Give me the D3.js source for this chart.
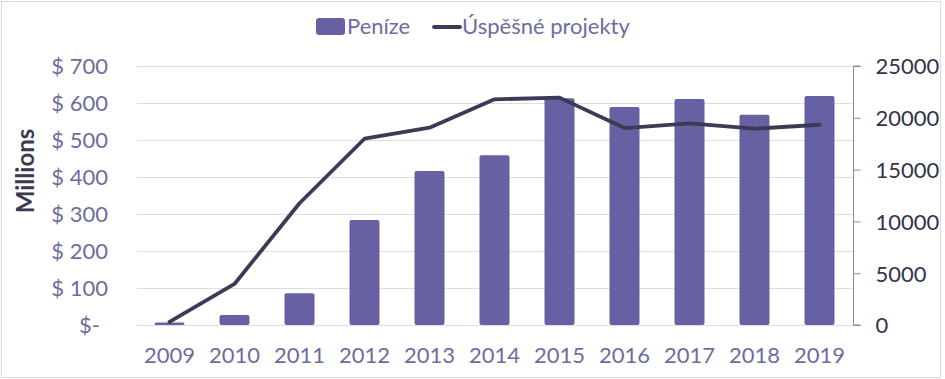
<!DOCTYPE html>
<html>
<head>
<meta charset="utf-8">
<script src="https://cdn.jsdelivr.net/npm/d3@7"></script>
<style>
  html, body { margin: 0; padding: 0; background: #fff; }
  svg { display: block; font-family: Lato, "Open Sans", sans-serif; }
</style>
</head>
<body>
<svg id="chart" width="945" height="379"></svg>
<script>
const years = ["2009","2010","2011","2012","2013","2014","2015","2016","2017","2018","2019"];
const money = [7, 27, 86, 284, 416, 459, 613, 589, 611, 568, 619]; // millions $
const projects = [300, 3960, 11750, 17980, 19040, 21780, 21950, 19010, 19460, 18950, 19330];
const leftTicks = [0, 100, 200, 300, 400, 500, 600, 700];
const rightTicks = [0, 5000, 10000, 15000, 20000, 25000];
const seriesNames = ["Peníze", "Úspěšné projekty"];

const svg = d3.select("#chart");
const plot = { left: 137, right: 852, top: 66, bottom: 325 };

const barColor = "#6761a4";
const lineColor = "#3d3a56";
const labelColor = "#6e6c9e";
const gridColor = "#dddce8";
const FS = "22px";

// outer border
svg.append("rect")
  .attr("x", 1.5).attr("y", 1.5)
  .attr("width", 939).attr("height", 376)
  .attr("fill", "#fff").attr("stroke", "#d9d9e2").attr("stroke-width", 1);

const x = d3.scaleBand().domain(years)
  .range([plot.left, plot.right])
  .paddingInner(35 / 65).paddingOuter(17.5 / 65);
const yL = d3.scaleLinear().domain([0, 700]).range([plot.bottom, plot.top]);
const yR = d3.scaleLinear().domain([0, 25000]).range([plot.bottom, plot.top]);

// gridlines
svg.append("g").selectAll("line").data(leftTicks).join("line")
  .attr("x1", plot.left).attr("x2", plot.right + 1)
  .attr("y1", d => Math.round(yL(d)) + 0.5).attr("y2", d => Math.round(yL(d)) + 0.5)
  .attr("stroke", gridColor).attr("stroke-width", 1.2);

// left axis labels
const leftAxis = d3.axisLeft(yL).tickValues(leftTicks).tickSize(0).tickPadding(0)
  .tickFormat(d => d === 0 ? "$-" : "$ " + d);
const gL = svg.append("g").attr("transform", `translate(108,0)`).call(leftAxis);
gL.select(".domain").remove();
gL.selectAll("text").attr("fill", labelColor).style("font-size", FS)
  .style("font-family", "Lato, sans-serif")
  .attr("dy", "0.36em")
  .attr("dx", d => d === 0 ? -8 : 0);

// left axis title
svg.append("text")
  .attr("transform", "translate(34,171) rotate(-90)")
  .attr("text-anchor", "middle")
  .style("font-size", "24px").style("font-weight", "bold")
  .attr("fill", "#3b3a4e")
  .text("Millions");

// bars
svg.append("g").selectAll("rect").data(years).join("rect")
  .attr("x", d => x(d))
  .attr("y", (d, i) => yL(money[i]))
  .attr("width", x.bandwidth())
  .attr("height", (d, i) => plot.bottom - yL(money[i]))
  .attr("rx", 2)
  .attr("fill", barColor);

// line
const line = d3.line()
  .x((d, i) => x(years[i]) + x.bandwidth() / 2)
  .y(d => yR(d));
svg.append("path").datum(projects)
  .attr("d", line)
  .attr("fill", "none").attr("stroke", lineColor)
  .attr("stroke-width", 3.8).attr("stroke-linejoin", "round").attr("stroke-linecap", "round");

// right axis
const rightAxis = d3.axisRight(yR).tickValues(rightTicks).tickSize(7).tickPadding(15)
  .tickFormat(d3.format("d"));
const gR = svg.append("g").attr("transform", `translate(853.5,0)`).call(rightAxis);
gR.select(".domain").attr("stroke", "#8c8c8c").attr("d", `M7,${yR(25000)}H0V${yR(0)}H7`);
gR.selectAll("line").attr("stroke", "#8c8c8c");
gR.selectAll("text").attr("fill", "#34334a").style("font-size", FS)
  .style("font-family", "Lato, sans-serif").attr("dy", "0.36em");

// x axis labels
const xAxis = d3.axisBottom(x).tickSize(0).tickPadding(0);
const gX = svg.append("g").attr("transform", `translate(0,${plot.bottom + 38})`).call(xAxis);
gX.select(".domain").remove();
gX.selectAll("text").attr("fill", labelColor).style("font-size", FS)
  .style("font-family", "Lato, sans-serif").attr("dy", "0");

// legend
const lg = svg.append("g");
lg.append("rect").attr("x", 316).attr("y", 18).attr("width", 29).attr("height", 17).attr("rx", 3)
  .attr("fill", barColor);
lg.append("text").attr("x", 347).attr("y", 34).attr("fill", labelColor)
  .style("font-size", FS).text(seriesNames[0]);
lg.append("line").attr("x1", 434).attr("x2", 460).attr("y1", 27).attr("y2", 27)
  .attr("stroke", lineColor).attr("stroke-width", 3.8).attr("stroke-linecap", "round");
lg.append("text").attr("x", 462).attr("y", 34).attr("fill", labelColor)
  .style("font-size", FS).text(seriesNames[1]);
</script>
</body>
</html>
